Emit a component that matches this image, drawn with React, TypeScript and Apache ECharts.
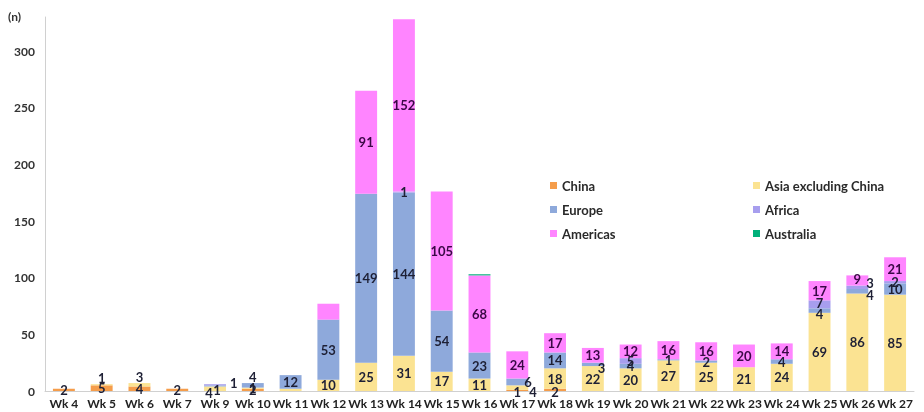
import React, { useEffect, useRef } from "react";
import * as echarts from "echarts";

const weeks = ["Wk 4","Wk 5","Wk 6","Wk 7","Wk 9","Wk 10","Wk 11","Wk 12","Wk 13","Wk 14","Wk 15","Wk 16","Wk 17","Wk 18","Wk 19","Wk 20","Wk 21","Wk 22","Wk 23","Wk 24","Wk 25","Wk 26","Wk 27"];
const china =     [2,5,4,2,0,2,0,0,0,0,0,0,1,2,0,0,0,0,0,0,0,0,0];
const asiaExCh =  [0,1,3,0,4,1,2,10,25,31,17,11,4,18,22,20,27,25,21,24,69,86,85];
const europe =    [0,0,0,0,1,4,12,53,149,144,54,23,6,14,3,4,1,2,0,4,4,4,10];
const africa =    [0,0,0,0,1,0,0,0,0,1,0,0,0,0,0,5,0,0,0,0,7,3,2];
const americas =  [0,0,0,0,0,0,0,14,91,152,105,68,24,17,13,12,16,16,20,14,17,9,21];
const australia = [0,0,0,0,0,0,0,0,0,0,0,1,0,0,0,0,0,0,0,0,0,0,0];
const yTicks = [0, 50, 100, 150, 200, 250, 300];

const seriesNames = ["China", "Asia excluding China", "Europe", "Africa", "Americas", "Australia"];
const colors = ["#F59D4B", "#FBE392", "#8EA9DB", "#A79EEE", "#FF85FF", "#00B07A"];

// label tweaks: [seriesIndex, categoryIndex] -> override
const labelOverrides: Record<string, any> = {
  "1-1": { position: "top", distance: 0 },
  "1-2": { position: "top", distance: 0 },
  "1-4": { position: "inside", offset: [-6, 4] },
  "2-4": { position: "inside", offset: [2, 4] },
  "3-4": { position: "right", distance: 4, offset: [0, -2] },
  "2-5": { position: "top", distance: 0 },
  "0-12": { position: "inside", offset: [0, 2] },
  "1-12": { position: "right", offset: [-4, 4] },
  "2-12": { position: "right", distance: -4 },
  "0-13": { position: "inside", offset: [0, 2] },
  "2-14": { position: "right", distance: -6, offset: [0, 4] },
  "2-21": { position: "right", distance: -2, offset: [0, 4] },
  "3-21": { position: "right", distance: -2, offset: [0, -4] },
  "4-21": { position: "inside", offset: [0, -2] },
  "3-20": { position: "inside", offset: [0, -1] },
  "2-20": { position: "inside", offset: [0, 3] },
  "3-26": { position: "inside" },
};
const hiddenLabels = new Set(["1-6", "4-7", "5-11"]);

export default function App() {
  const ref = useRef<HTMLDivElement>(null);
  useEffect(() => {
    if (!ref.current) return;
    const chart = echarts.init(ref.current, null, { renderer: "svg" });
    const all = [china, asiaExCh, europe, africa, americas, australia];
    const series = all.map((arr, si) => ({
      name: seriesNames[si],
      type: "bar",
      stack: "total",
      barCategoryGap: "42%",
      itemStyle: { color: colors[si] },
      label: {
        show: true,
        position: "inside",
        fontFamily: "Lato",
        fontWeight: "bold",
        fontSize: 13,
        color: si === 4 ? "#3A0846" : "#1E2035",
      },
      data: arr.map((v, ci) => {
        const key = `${si}-${ci}`;
        if (v === 0) return { value: v, label: { show: false } };
        if (hiddenLabels.has(key)) return { value: v, label: { show: false } };
        if (labelOverrides[key]) return { value: v, label: labelOverrides[key] };
        return v;
      }),
    }));
    const legendText = { fontFamily: "Lato", fontWeight: "bold", fontSize: 13, color: "#2A2A2A" };
    const legendBase = {
      orient: "vertical",
      top: 174,
      icon: "rect",
      itemWidth: 7,
      itemHeight: 7,
      itemGap: 11,
      textStyle: legendText,
      selectedMode: false,
    };
    chart.setOption({
      animation: false,
      grid: { left: 45, right: 10, top: 17, bottom: 21 },
      legend: [
        { ...legendBase, data: ["China", "Europe", "Americas"], left: 545 },
        { ...legendBase, data: ["Asia excluding China", "Africa", "Australia"], left: 748 },
      ],
      graphic: [
        {
          type: "text",
          left: 8,
          top: 10,
          style: { text: "(n)", fontFamily: "Lato", fontWeight: "bold", fontSize: 12, fill: "#333" },
        },
      ],
      xAxis: {
        type: "category",
        data: weeks,
        axisTick: { show: false },
        axisLine: { lineStyle: { color: "#D0D0D0" } },
        axisLabel: { interval: 0, fontFamily: "Lato", fontWeight: "bold", fontSize: 12, color: "#222", margin: 6 },
      },
      yAxis: {
        type: "value",
        min: 0,
        max: 330,
        interval: 50,
        splitLine: { show: false },
        axisLine: { show: true, lineStyle: { color: "#D0D0D0" } },
        axisTick: { show: false },
        axisLabel: {
          fontFamily: "Lato",
          fontWeight: "bold",
          fontSize: 12,
          color: "#333",
          margin: 10,
          formatter: (v: number) => (yTicks.includes(v) ? String(v) : ""),
        },
      },
      series,
    });
    return () => chart.dispose();
  }, []);
  return <div ref={ref} style={{ position: "fixed", left: 0, top: 0, width: 924, height: 412 }} />;
}
